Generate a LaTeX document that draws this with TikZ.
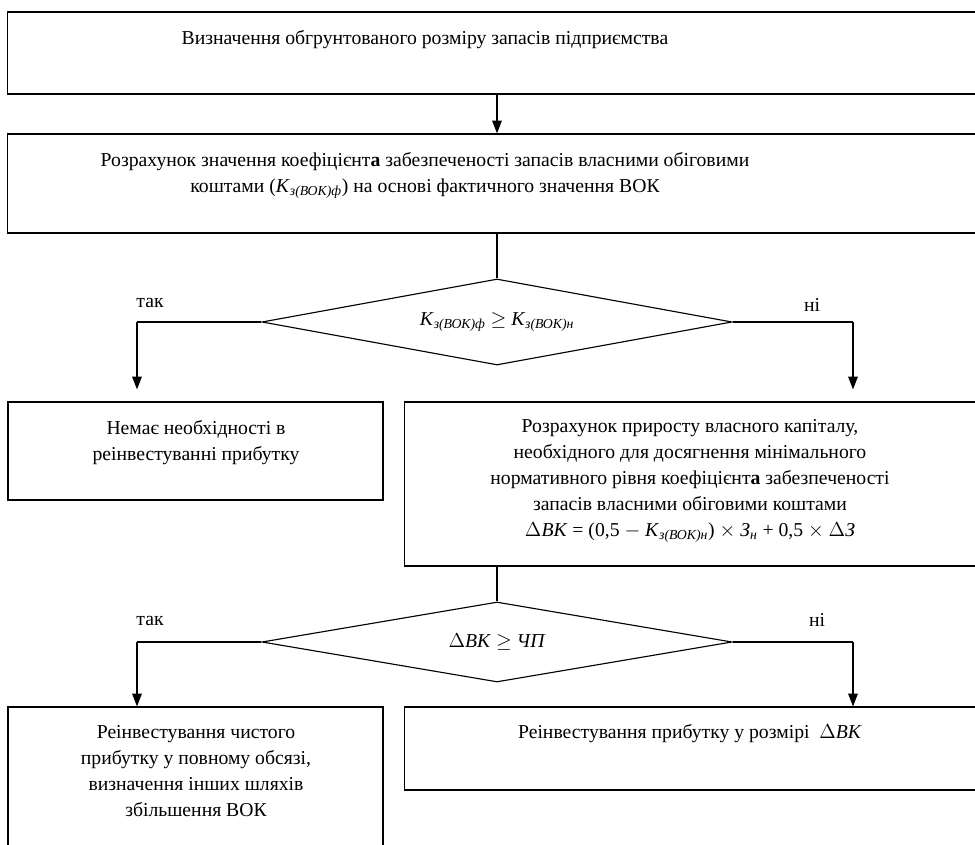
\documentclass[tikz,border=0pt]{standalone}
\usepackage{fontspec}
\setmainfont{Liberation Serif}
\usetikzlibrary{arrows.meta,shapes.geometric}

\newcommand{\kzv}[1]{\textit{К}\textsubscript{\textit{з(ВОК)#1}}}
\newcommand{\dvk}{$\Delta$\textit{ВК}}

\begin{document}
\begin{tikzpicture}[x=0.025cm, y=-0.025cm, line width=0.8pt,
    >={Triangle[length=3.2mm,width=2.4mm]},
    font=\fontsize{14}{18.4}\selectfont,
    box/.style={rectangle, draw, inner sep=0pt},
    txt/.style={align=center, inner sep=0pt, anchor=north},
    cond/.style={diamond, draw, inner sep=0pt, aspect=5.5, minimum width=11.75cm},
    lbl/.style={inner sep=0pt}]

    \useasboundingbox (0,0) rectangle (975,845);
    \clip (0,0) rectangle (975,845);

    % Boxes
    \node[box, minimum width=24.45cm, minimum height=2.05cm] (top) at (497,53) {};
    \node[box, minimum width=24.45cm, minimum height=2.475cm] (calc) at (497,183.5) {};
    \node[box, minimum width=9.375cm, minimum height=2.45cm] (no) at (195.5,451) {};
    \node[box, minimum width=14.625cm, minimum height=4.1cm] (grow) at (697.5,484) {};
    \node[box, minimum width=9.375cm, minimum height=4.075cm] (full) at (195.5,788.5) {};
    \node[box, minimum width=14.625cm, minimum height=2.075cm] (part) at (697.5,748.5) {};

    % Box texts
    \node[txt] (topt) at (425,30) {Визначення обгрунтованого розміру запасів підприємства};
    \node[txt] (calct) at (425,152) {Розрахунок значення коефіцієнт\textbf{а} забезпеченості запасів власними обіговими\\
        коштами (\kzv{ф}) на основі фактичного значення ВОК};
    \node[txt] (not) at (196,420) {Немає необхідності в\\ реінвестуванні прибутку};
    \node[txt] (growt) at (690,419) {Розрахунок приросту власного капіталу,\\
        необхідного для досягнення мінімального\\
        нормативного рівня коефіцієнт\textbf{а} забезпеченості\\
        запасів власними обіговими коштами\\
        \dvk{} = (0,5 $-$ \kzv{н}) $\times$ \textit{З}\textsubscript{\textit{н}} + 0,5 $\times$ $\Delta$\textit{З}};
    \node[txt] (fullt) at (196,725) {Реінвестування чистого\\ прибутку у повному обсязі,\\
        визначення інших шляхів\\ збільшення ВОК};
    \node[txt] (partt) at (690,724) {Реінвестування прибутку у розмірі~ \dvk};

    % Decisions
    \node[cond, minimum height=2.15cm] (d1) at (497,322) {\kzv{ф} $\geq$ \kzv{н}};
    \node[cond, minimum height=2cm] (d2) at (497,642) {\dvk{} $\geq$ \textit{ЧП}};

    \node[lbl] (yes1t) at (150,303) {так};
    \node[lbl] (no1t) at (812,305) {ні};
    \node[lbl] (yes2t) at (150,621) {так};
    \node[lbl] (no2t) at (817,620) {ні};

    \coordinate (yes1) at (137,322);
    \coordinate (no1) at (853,322);
    \coordinate (yes2) at (137,642);
    \coordinate (no2) at (853,642);

    % Connections
    \draw[->] (top) -- (calc);
    \draw (calc) -- (d1);
    \draw (d1.west) -- (yes1);
    \draw (d1.east) -- (no1);
    \draw[->, shorten >=0.3cm] (yes1) -- (yes1 |- no.north);
    \draw[->, shorten >=0.3cm] (no1) -- (no1 |- grow.north);
    \draw (grow.south -| d2.north) -- (d2.north);
    \draw (d2.west) -- (yes2);
    \draw (d2.east) -- (no2);
    \draw[->] (yes2) -- (yes2 |- full.north);
    \draw[->] (no2) -- (no2 |- part.north);

\end{tikzpicture}
\end{document}
